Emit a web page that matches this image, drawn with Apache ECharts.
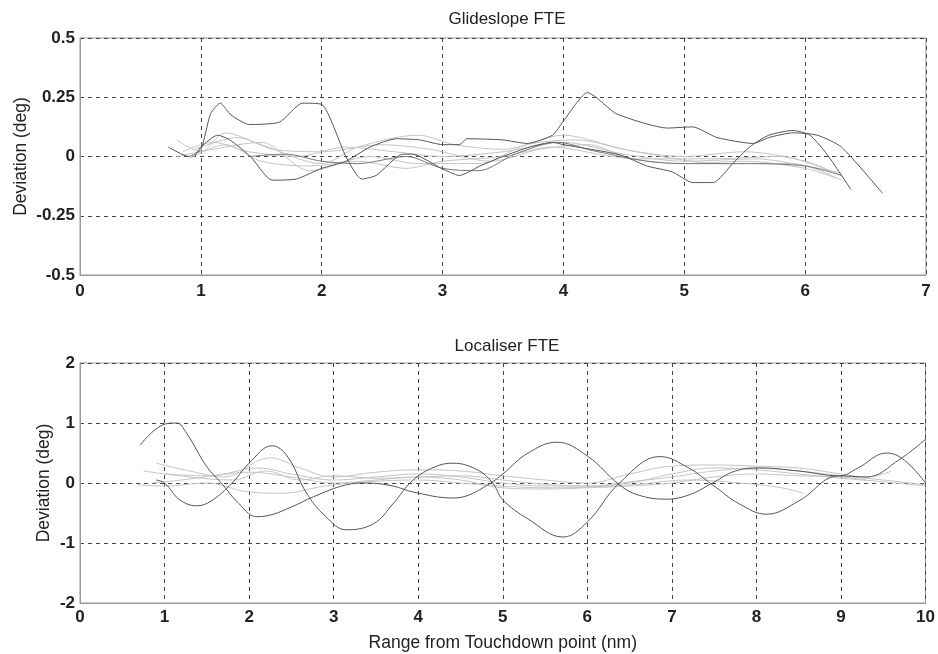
<!DOCTYPE html>
<html><head><meta charset="utf-8">
<script src="https://cdn.jsdelivr.net/npm/echarts@6/dist/echarts.min.js"></script>
<style>html,body{margin:0;padding:0;background:#fff}#c{width:938px;height:654px}</style>
</head><body><div id="c"></div>
<script>
// ---- Glideslope FTE (deg) : [range nm, deviation deg]
var gsTicksX = [0,1,2,3,4,5,6,7];
var gsTicksY = [-0.5,-0.25,0,0.25,0.5];
var gsDarkA = [[0.73,0.04],[0.9,0.0],[1.0,0.03],[1.08,0.18],[1.16,0.225],[1.25,0.175],[1.4,0.135],[1.65,0.145],[1.84,0.225],[2.0,0.22],[2.2,0.0],[2.33,-0.095],[2.45,-0.08],[2.67,0.01],[2.75,0.01],[2.99,-0.05],[3.14,-0.08],[3.31,-0.04],[3.5,0.0],[3.72,0.04],[3.91,0.06],[4.0,0.05],[4.47,0.007],[4.69,-0.04],[4.9,-0.065],[5.07,-0.11],[5.24,-0.11],[5.4,-0.03],[5.54,0.04],[5.7,0.09],[5.9,0.11],[6.04,0.09],[6.18,0.01],[6.38,-0.14]];
var gsDarkB = [[0.95,0.0],[1.0,0.04],[1.14,0.09],[1.24,0.07],[1.41,0.0],[1.59,-0.1],[1.79,-0.095],[2.0,-0.05],[2.2,-0.02],[2.4,0.04],[2.62,0.075],[2.81,0.07],[3.0,0.05],[3.14,0.05],[3.2,0.075],[3.5,0.07],[3.7,0.055],[3.91,0.09],[4.0,0.15],[4.2,0.27],[4.27,0.25],[4.44,0.18],[4.86,0.12],[5.07,0.125],[5.27,0.08],[5.57,0.055],[5.7,0.08],[5.9,0.1],[6.1,0.09],[6.3,0.04],[6.64,-0.155]];
var gsDarkC = [[1.4,0.0],[1.7,0.01],[2.0,-0.02],[2.3,-0.03],[2.7,0.0],[3.0,-0.05],[3.3,-0.06],[3.6,0.01],[3.95,0.06],[4.24,0.025],[4.69,-0.02],[5.0,-0.03],[5.5,-0.03],[6.0,-0.04],[6.3,-0.08]];
var gsLight1 = [[0.8,0.07],[1.0,0.02],[1.2,0.1],[1.5,0.05],[2.0,-0.03],[2.3,0.04],[2.8,0.09],[3.1,0.05],[3.5,0.03],[4.0,0.09],[4.5,0.03],[5.0,0.0],[5.5,0.02],[6.0,-0.02],[6.3,-0.08]];
var gsLight2 = [[0.85,0.02],[1.1,0.06],[1.4,0.02],[1.8,0.0],[2.2,0.04],[2.6,0.02],[3.0,0.0],[3.5,0.02],[4.0,0.06],[4.5,0.01],[5.0,-0.02],[5.6,-0.01],[6.0,-0.04],[6.3,-0.07]];
var gsLight3 = [[0.9,-0.01],[1.2,0.05],[1.5,-0.02],[1.9,-0.04],[2.3,-0.02],[2.7,-0.05],[3.0,-0.02],[3.5,0.0],[3.9,0.04],[4.4,0.0],[5.0,-0.03],[5.5,-0.02],[6.0,-0.05],[6.25,-0.09]];
var gsLight4 = [[0.95,0.03],[1.3,0.08],[1.6,0.03],[2.0,0.02],[2.5,0.05],[2.9,0.03],[3.4,-0.02],[3.8,0.03],[4.2,0.05],[4.6,-0.01],[5.2,-0.01],[5.8,0.0],[6.2,-0.06]];
var gsLight5 = [[0.8,0.0],[1.1,0.03],[1.5,0.06],[1.9,-0.06],[2.4,0.0],[2.8,-0.03],[3.3,-0.03],[3.7,0.05],[4.1,0.07],[4.6,0.02],[5.3,-0.03],[5.9,-0.03],[6.3,-0.1]];

// ---- Localiser FTE (deg)
var locTicksX = [0,1,2,3,4,5,6,7,8,9,10];
var locTicksY = [-2,-1,0,1,2];
var locDark1 = [[0.71,0.63],[0.98,0.97],[1.14,1.0],[1.26,0.83],[1.5,0.27],[1.69,-0.03],[1.85,-0.3],[2.09,-0.56],[2.2,-0.55],[2.5,-0.4],[2.76,-0.23],[3.15,-0.03],[3.39,0.0],[3.7,-0.05],[3.94,-0.15],[4.41,-0.25],[4.6,-0.2],[4.88,0.02],[5.0,0.15],[5.3,0.5],[5.64,0.68],[6.0,0.45],[6.38,-0.03],[6.6,-0.2],[6.93,-0.27],[7.2,-0.2],[7.48,0.0],[7.75,0.2],[8.04,0.25],[8.5,0.2],[8.98,0.12],[9.2,0.25],[9.54,0.5],[9.75,0.38],[10.0,0.0]];
var locDark2 = [[0.9,0.05],[1.0,0.0],[1.18,-0.28],[1.38,-0.38],[1.55,-0.3],[1.8,0.0],[2.0,0.33],[2.27,0.62],[2.45,0.45],[2.68,-0.17],[2.9,-0.55],[3.15,-0.78],[3.47,-0.68],[3.7,-0.35],[3.94,0.05],[4.2,0.27],[4.41,0.33],[4.7,0.22],[4.88,0.0],[5.0,-0.28],[5.3,-0.6],[5.71,-0.9],[6.0,-0.65],[6.38,0.0],[6.86,0.44],[7.2,0.25],[7.48,-0.03],[7.8,-0.35],[8.12,-0.52],[8.5,-0.3],[8.98,0.12],[9.3,0.1],[9.7,0.4],[10.0,0.73]];
var locLight1 = [[0.9,0.33],[1.3,0.2],[1.7,0.1],[2.25,0.42],[2.6,0.25],[3.0,0.1],[3.5,0.18],[4.0,0.22],[4.5,0.2],[5.0,0.12],[5.5,0.05],[6.0,0.0],[6.5,0.15],[7.0,0.28],[7.5,0.3],[8.0,0.28],[8.5,0.25],[9.0,0.15],[9.3,0.1],[9.6,0.2]];
var locLight2 = [[0.75,0.2],[1.3,0.1],[1.8,0.05],[2.2,0.2],[2.6,0.05],[3.0,0.12],[3.5,0.08],[4.0,0.1],[4.5,0.12],[5.0,0.05],[5.5,-0.02],[6.0,-0.05],[6.5,0.0],[7.0,0.15],[7.5,0.25],[8.0,0.22],[8.5,0.15],[9.0,0.08],[9.5,0.02],[10.0,-0.05]];
var locLight3 = [[0.68,-0.03],[1.0,-0.05],[1.5,0.0],[2.0,-0.15],[2.4,-0.17],[2.9,-0.05],[3.4,0.02],[4.0,0.05],[4.5,0.0],[5.0,-0.05],[5.5,-0.08],[6.0,-0.07],[6.6,-0.02],[7.2,0.05],[7.8,0.0],[8.3,-0.08],[8.55,-0.17]];
var locLight4 = [[0.85,0.0],[1.2,0.05],[1.7,0.15],[2.1,0.25],[2.5,0.15],[3.0,0.05],[3.5,0.1],[4.0,0.15],[4.5,0.1],[5.0,0.0],[5.5,-0.05],[6.0,-0.05],[6.5,0.02],[7.0,0.1],[7.5,0.2],[8.0,0.25],[8.5,0.2],[9.0,0.12],[9.5,0.05],[10.0,-0.03]];
var locLight5 = [[1.0,0.15],[1.5,0.12],[2.0,0.18],[2.5,0.1],[3.0,0.0],[3.5,0.05],[4.0,0.1],[4.5,0.05],[5.0,-0.08],[5.5,-0.1],[6.0,-0.08],[6.5,-0.05],[7.0,0.0],[7.5,0.1],[8.0,0.15],[8.5,0.12],[9.0,0.1],[9.3,0.05]];

var FONT = '"Liberation Sans", Arial, sans-serif';
var DARK = '#555555', MID = '#777777', LIGHT = '#c4c4c4';

function mk(data, idx, color, smooth) {
  return { type: 'line', data: data, xAxisIndex: idx, yAxisIndex: idx, showSymbol: false, smooth: smooth,
    lineStyle: { color: color, width: 1 }, silent: true, animation: false, z: color === LIGHT ? 2 : 3 };
}
var gridLine = { show: true, lineStyle: { color: '#444', type: [4, 4], width: 1 } };
var axisLine = { show: true, onZero: false, lineStyle: { color: '#999', width: 1 } };
var lbl = { color: '#222', fontFamily: FONT, fontSize: 17, fontWeight: 'bold' };
var nameStyle = { fontFamily: FONT, fontSize: 17.5, color: '#222' };
var titleStyle = { fontFamily: FONT, fontSize: 17, fontWeight: 'normal', color: '#222' };

var option = {
  animation: false,
  title: [
    { text: 'Glideslope FTE', left: 502, top: 6, textAlign: 'center', textStyle: titleStyle },
    { text: 'Localiser FTE', left: 502, top: 333, textAlign: 'center', textStyle: titleStyle }
  ],
  grid: [
    { left: 80, top: 38, width: 846, height: 237, show: true, borderColor: '#999', borderWidth: 1 },
    { left: 80, top: 363, width: 846, height: 240, show: true, borderColor: '#999', borderWidth: 1 }
  ],
  xAxis: [
    { type: 'value', gridIndex: 0, min: gsTicksX[0], max: gsTicksX[gsTicksX.length - 1], interval: 1,
      axisLine: axisLine, axisTick: { show: false }, splitLine: gridLine, axisLabel: Object.assign({ margin: 8 }, lbl) },
    { type: 'value', gridIndex: 1, min: locTicksX[0], max: locTicksX[locTicksX.length - 1], interval: 1,
      axisLine: axisLine, axisTick: { show: false }, splitLine: gridLine, axisLabel: Object.assign({ margin: 6 }, lbl),
      name: 'Range from Touchdown point (nm)', nameLocation: 'middle', nameGap: 31, nameTextStyle: nameStyle }
  ],
  yAxis: [
    { type: 'value', gridIndex: 0, min: gsTicksY[0], max: gsTicksY[gsTicksY.length - 1], interval: 0.25,
      axisLine: axisLine, axisTick: { show: false }, splitLine: gridLine, axisLabel: Object.assign({ margin: 5 }, lbl),
      name: 'Deviation (deg)', nameLocation: 'middle', nameGap: 50, nameMoveOverlap: false, nameTextStyle: nameStyle },
    { type: 'value', gridIndex: 1, min: locTicksY[0], max: locTicksY[locTicksY.length - 1], interval: 1,
      axisLine: axisLine, axisTick: { show: false }, splitLine: gridLine, axisLabel: Object.assign({ margin: 5 }, lbl),
      name: 'Deviation (deg)', nameLocation: 'middle', nameGap: 27, nameMoveOverlap: false, nameTextStyle: nameStyle }
  ],
  series: [
    mk(gsLight1, 0, LIGHT, 0.3), mk(gsLight2, 0, LIGHT, 0.3), mk(gsLight3, 0, LIGHT, 0.3),
    mk(gsLight4, 0, LIGHT, 0.3), mk(gsLight5, 0, LIGHT, 0.3),
    mk(gsDarkC, 0, MID, 0.3), mk(gsDarkA, 0, DARK, 0.2), mk(gsDarkB, 0, DARK, 0.2),
    mk(locLight1, 1, LIGHT, 0.4), mk(locLight2, 1, LIGHT, 0.4), mk(locLight3, 1, LIGHT, 0.4),
    mk(locLight4, 1, LIGHT, 0.4), mk(locLight5, 1, LIGHT, 0.4),
    mk(locDark1, 1, DARK, 0.4), mk(locDark2, 1, DARK, 0.4)
  ]
};
var chart = echarts.init(document.getElementById('c'), null, { renderer: 'canvas' });
chart.setOption(option);
</script></body></html>
